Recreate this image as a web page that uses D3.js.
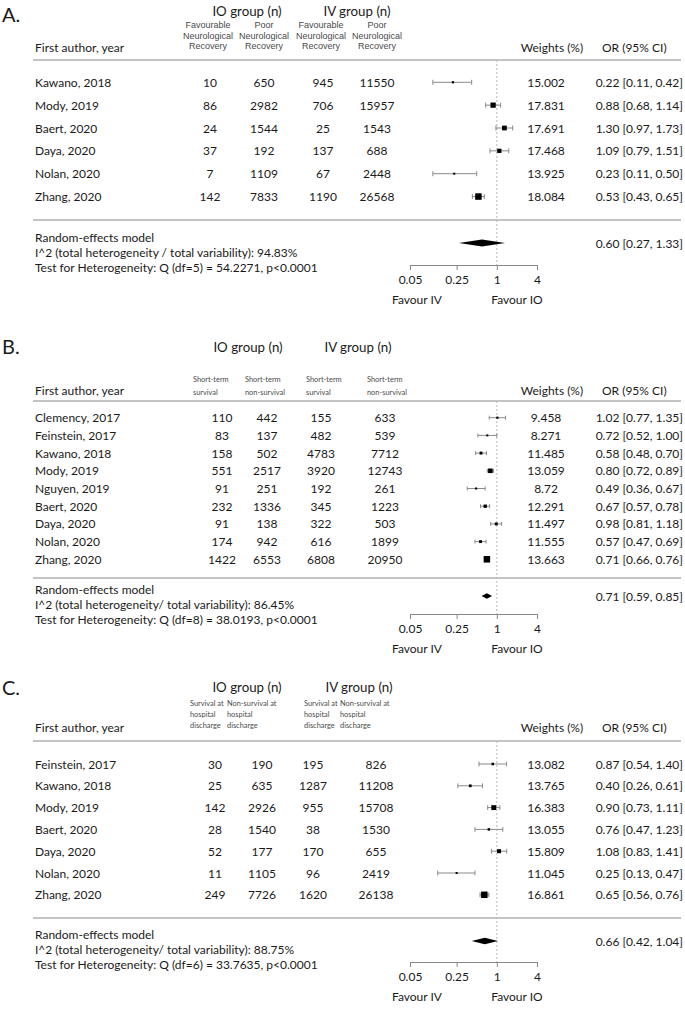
<!DOCTYPE html>
<html>
<head>
<meta charset="utf-8">
<script src="https://cdn.jsdelivr.net/npm/d3@7"></script>
<style>
  body { margin: 0; background: #fff; }
  svg { display: block; }
</style>
</head>
<body>
<svg id="chart" width="685" height="1011"></svg>
<script>
// ---------------- DATA ----------------
// Panel A
const studiesA = ["Kawano, 2018","Mody, 2019","Baert, 2020","Daya, 2020","Nolan, 2020","Zhang, 2020"];
const ioFavA  = [10, 86, 24, 37, 7, 142];
const ioPoorA = [650, 2982, 1544, 192, 1109, 7833];
const ivFavA  = [945, 706, 25, 137, 67, 1190];
const ivPoorA = [11550, 15957, 1543, 688, 2448, 26568];
const weightsA = ["15.002","17.831","17.691","17.468","13.925","18.084"];
const orA  = [0.22, 0.88, 1.30, 1.09, 0.23, 0.53];
const loA  = [0.11, 0.68, 0.97, 0.79, 0.11, 0.43];
const hiA  = [0.42, 1.14, 1.73, 1.51, 0.50, 0.65];
const pooledA = [0.60, 0.27, 1.33];
const subHeadA = [["Favourable","Neurological","Recovery"],["Poor","Neurological","Recovery"],["Favourable","Neurological","Recovery"],["Poor","Neurological","Recovery"]];
const hetA = ["I^2 (total heterogeneity / total variability): 94.83%", "Test for Heterogeneity: Q (df=5) = 54.2271, p<0.0001"];

// Panel B
const studiesB = ["Clemency, 2017","Feinstein, 2017","Kawano, 2018","Mody, 2019","Nguyen, 2019","Baert, 2020","Daya, 2020","Nolan, 2020","Zhang, 2020"];
const io1B = [110, 83, 158, 551, 91, 232, 91, 174, 1422];
const io2B = [442, 137, 502, 2517, 251, 1336, 138, 942, 6553];
const iv1B = [155, 482, 4783, 3920, 192, 345, 322, 616, 6808];
const iv2B = [633, 539, 7712, 12743, 261, 1223, 503, 1899, 20950];
const weightsB = ["9.458","8.271","11.485","13.059","8.72","12.291","11.497","11.555","13.663"];
const orB = [1.02, 0.72, 0.58, 0.80, 0.49, 0.67, 0.98, 0.57, 0.71];
const loB = [0.77, 0.52, 0.48, 0.72, 0.36, 0.57, 0.81, 0.47, 0.66];
const hiB = [1.35, 1.00, 0.70, 0.89, 0.67, 0.78, 1.18, 0.69, 0.76];
const pooledB = [0.71, 0.59, 0.85];
const subHeadB = [["Short-term","survival"],["Short-term","non-survival"],["Short-term","survival"],["Short-term","non-survival"]];
const hetB = ["I^2 (total heterogeneity/ total variability): 86.45%", "Test for Heterogeneity: Q (df=8) = 38.0193, p<0.0001"];

// Panel C
const studiesC = ["Feinstein, 2017","Kawano, 2018","Mody, 2019","Baert, 2020","Daya, 2020","Nolan, 2020","Zhang, 2020"];
const io1C = [30, 25, 142, 28, 52, 11, 249];
const io2C = [190, 635, 2926, 1540, 177, 1105, 7726];
const iv1C = [195, 1287, 955, 38, 170, 96, 1620];
const iv2C = [826, 11208, 15708, 1530, 655, 2419, 26138];
const weightsC = ["13.082","13.765","16.383","13.055","15.809","11.045","16.861"];
const orC = [0.87, 0.40, 0.90, 0.76, 1.08, 0.25, 0.65];
const loC = [0.54, 0.26, 0.73, 0.47, 0.83, 0.13, 0.56];
const hiC = [1.40, 0.61, 1.11, 1.23, 1.41, 0.47, 0.76];
const pooledC = [0.66, 0.42, 1.04];
const subHeadC = [["Survival at","hospital","discharge"],["Non-survival at","hospital","discharge"],["Survival at","hospital","discharge"],["Non-survival at","hospital","discharge"]];
const hetC = ["I^2 (total heterogeneity/ total variability): 88.75%", "Test for Heterogeneity: Q (df=6) = 33.7635, p<0.0001"];

const panelLabels = ["A.", "B.", "C."];
const tickValues = [0.05, 0.25, 1, 4];
const tickLabels = ["0.05", "0.25", "1", "4"];

// ---------------- LAYOUT ----------------
const FONT = "Lato, 'Open Sans', sans-serif";
const FS = 12;
const svg = d3.select("#chart");
const x = d3.scaleLog().domain([0.05, 4]).range([410, 537]);
const fmt2 = d3.format(".2f");

const panels = [
  { label: panelLabels[0], studies: studiesA, cols: [ioFavA, ioPoorA, ivFavA, ivPoorA], weights: weightsA,
    or: orA, lo: loA, hi: hiA, pooled: pooledA, sub: subHeadA, het: hetA,
    L: { labelY: 14, groupY: 11, subY: [25, 35.5, 46], subX: [208, 264, 321, 377], subAnchor: "middle", subFont: "'Liberation Sans', Arial, sans-serif", subSize: 9,
         colX: [210, 264, 323, 377], headerY: 47, line1: 60, row0: 82.3, step: 22.85, line2: 220, reY: 237, diaY: 243, axisY: 265, groupX: [247, 357] } },
  { label: panelLabels[1], studies: studiesB, cols: [io1B, io2B, iv1B, iv2B], weights: weightsB,
    or: orB, lo: loB, hi: hiB, pooled: pooledB, sub: subHeadB, het: hetB,
    L: { labelY: 346, groupY: 347, subY: [379, 392], subX: [193, 245, 306, 367], subAnchor: "start", subFont: FONT, subSize: 7.4,
         colX: [222, 267, 321, 385], headerY: 390, line1: 401, row0: 417.7, step: 17.7, line2: 578, reY: 589, diaY: 596, axisY: 614, groupX: [248, 358] } },
  { label: panelLabels[2], studies: studiesC, cols: [io1C, io2C, iv1C, iv2C], weights: weightsC,
    or: orC, lo: loC, hi: hiC, pooled: pooledC, sub: subHeadC, het: hetC,
    L: { labelY: 687, groupY: 687, subY: [703, 714, 725], subX: [190, 227, 304, 340], subAnchor: "start", subFont: FONT, subSize: 7.4,
         colX: [215, 262, 313, 376], headerY: 727, line1: 741, row0: 764, step: 21.8, line2: 918, reY: 934, diaY: 941, axisY: 962, groupX: [247, 359] } }
];

function txt(g, xx, yy, s, opts = {}) {
  return g.append("text")
    .attr("x", xx).attr("y", yy)
    .attr("dominant-baseline", "central")
    .attr("text-anchor", opts.anchor || "start")
    .attr("font-family", opts.font || FONT)
    .attr("font-size", opts.size || FS)
    .attr("fill", opts.fill || "#1a1a1a")
    .text(s);
}

panels.forEach(p => {
  const L = p.L;
  const g = svg.append("g");
  const rowY = i => L.row0 + i * L.step;

  // Panel label
  txt(g, 2, L.labelY, p.label, { size: 20 });
  // Group headers
  txt(g, L.groupX[0], L.groupY, "IO group (n)", { anchor: "middle", size: 13.3 });
  txt(g, L.groupX[1], L.groupY, "IV group (n)", { anchor: "middle", size: 13.3 });
  // Sub headers
  p.sub.forEach((lines, c) => {
    lines.forEach((s, k) => {
      txt(g, L.subX[c], L.subY[k], s, { anchor: L.subAnchor, size: L.subSize, font: L.subFont, fill: "#4a4a4a" });
    });
  });
  // Column headers
  txt(g, 35, L.headerY, "First author, year");
  txt(g, 552, L.headerY, "Weights (%)", { anchor: "middle" });
  txt(g, 602, L.headerY, "OR (95% CI)");

  // Separator lines
  [L.line1, L.line2].forEach(yy => {
    g.append("line").attr("x1", 33).attr("x2", 681).attr("y1", yy).attr("y2", yy)
      .attr("stroke", "#b0b0b0").attr("stroke-width", 1.6);
  });

  // Reference line at OR = 1
  g.append("line").attr("x1", x(1)).attr("x2", x(1)).attr("y1", L.line1).attr("y2", L.axisY)
    .attr("stroke", "#b8b8b8").attr("stroke-width", 1).attr("stroke-dasharray", "2,2");

  // Square size from precision (1/se)
  const prec = p.lo.map((lo, i) => 1 / ((Math.log(p.hi[i]) - Math.log(lo)) / (2 * 1.96)));
  const sz = d3.scaleLinear().domain(d3.extent(prec)).range([2, 6.5]);
  const cap = L.step * 0.11;

  p.studies.forEach((s, i) => {
    const yy = rowY(i);
    txt(g, 35, yy, s);
    p.cols.forEach((col, c) => txt(g, L.colX[c], yy, col[i], { anchor: "middle" }));
    txt(g, 546, yy, p.weights[i], { anchor: "middle" });
    txt(g, 683, yy, `${fmt2(p.or[i])} [${fmt2(p.lo[i])}, ${fmt2(p.hi[i])}]`, { anchor: "end" });

    // CI
    g.append("line").attr("x1", x(p.lo[i])).attr("x2", x(p.hi[i])).attr("y1", yy).attr("y2", yy)
      .attr("stroke", "#8a8a8a").attr("stroke-width", 1);
    [p.lo[i], p.hi[i]].forEach(v => {
      g.append("line").attr("x1", x(v)).attr("x2", x(v)).attr("y1", yy - cap).attr("y2", yy + cap)
        .attr("stroke", "#8a8a8a").attr("stroke-width", 1);
    });
    const w = sz(prec[i]);
    g.append("rect").attr("x", x(p.or[i]) - w / 2).attr("y", yy - w / 2)
      .attr("width", w).attr("height", w).attr("fill", "#000");
  });

  // Pooled diamond
  const [pe, plo, phi] = p.pooled;
  const dh = L.step * 0.15;
  g.append("path")
    .attr("d", `M${x(plo)},${L.diaY} L${x(pe)},${L.diaY - dh} L${x(phi)},${L.diaY} L${x(pe)},${L.diaY + dh} Z`)
    .attr("fill", "#000");
  txt(g, 683, L.diaY, `${fmt2(pe)} [${fmt2(plo)}, ${fmt2(phi)}]`, { anchor: "end" });

  // Random-effects text
  txt(g, 35, L.reY, "Random-effects model");
  txt(g, 35, L.reY + 15, p.het[0]);
  txt(g, 35, L.reY + 30, p.het[1]);

  // Axis
  const ax = g.append("g").attr("transform", `translate(0,${L.axisY})`)
    .call(d3.axisBottom(x).tickValues(tickValues).tickFormat((d, i) => tickLabels[i]).tickSize(5).tickSizeOuter(0).tickPadding(5));
  ax.select(".domain").attr("stroke", "#888");
  ax.selectAll(".tick line").attr("stroke", "#888");
  ax.selectAll(".tick text").attr("font-family", FONT).attr("font-size", FS).attr("fill", "#1a1a1a");

  txt(g, 417, L.axisY + 34, "Favour IV", { anchor: "middle" });
  txt(g, 517, L.axisY + 34, "Favour IO", { anchor: "middle" });
});
</script>
</body>
</html>
